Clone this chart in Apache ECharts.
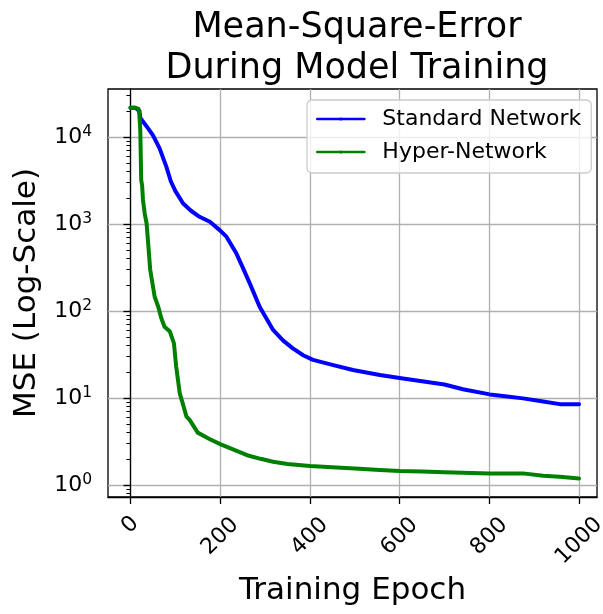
<!DOCTYPE html>
<html>
<head>
<meta charset="utf-8">
<title>Mean-Square-Error During Model Training</title>
<script src="https://cdn.jsdelivr.net/npm/echarts@6/dist/echarts.min.js"></script>
<style>
  html, body { margin: 0; padding: 0; background: #ffffff; }
  #chart { width: 603px; height: 614px; }
</style>
</head>
<body>
<div id="chart"></div>
<script>
// Training curves: epoch -> MSE
const stdEpochs = [0, 10, 20, 22, 25, 35, 50, 65, 80, 90, 100, 117, 135, 154, 177, 199, 214, 236, 250, 266, 288, 318, 340, 362, 385, 407, 450, 496, 556, 600, 650, 700, 741, 801, 840, 875, 920, 957, 1000];
const stdMse = [21700, 21700, 20000, 16500, 15700, 13500, 10500, 7400, 4560, 3100, 2400, 1730, 1420, 1210, 1060, 850, 715, 460, 320, 208, 112, 60.5, 46, 37.2, 31, 27.4, 24, 21, 18.4, 17, 15.6, 14.3, 12.6, 11.0, 10.4, 9.9, 9.1, 8.5, 8.5];

const hyperEpochs = [0, 10, 18, 20, 22, 24, 26, 28, 32, 36, 40, 44, 54, 62, 69, 76, 88, 97, 102, 110, 117, 125, 132, 150, 175, 200, 230, 260, 290, 318, 350, 400, 450, 500, 556, 600, 650, 700, 741, 800, 875, 920, 957, 1000];
const hyperMse = [21700, 21700, 21000, 18000, 12000, 3200, 2800, 1890, 1300, 1020, 560, 300, 146, 112, 82, 66, 58, 42.5, 22.9, 11.3, 8.5, 6.1, 5.6, 4.0, 3.4, 2.95, 2.55, 2.2, 2.0, 1.85, 1.74, 1.65, 1.6, 1.55, 1.49, 1.45, 1.43, 1.40, 1.38, 1.36, 1.36, 1.28, 1.245, 1.19];

// Axis ticks
const xTickValues = [0, 200, 400, 600, 800, 1000];
const yMajorTicks = [1, 10, 100, 1000, 10000];
const yMinorTicks = [0.8, 0.9, 2, 3, 4, 5, 6, 7, 8, 9, 20, 30, 40, 50, 60, 70, 80, 90,
  200, 300, 400, 500, 600, 700, 800, 900, 2000, 3000, 4000, 5000, 6000, 7000, 8000, 9000, 20000, 30000];

const seriesNames = ['Standard Network', 'Hyper-Network'];
const seriesColors = ['#0000ff', '#008000'];

const FONT = 'DejaVu Sans';
const X_MIN = -50, X_MAX = 1040;
const Y_MIN = 0.728, Y_MAX = 35620;

const pairs = (xs, ys) => xs.map((x, i) => [x, ys[i]]);

const chart = echarts.init(document.getElementById('chart'), null, { renderer: 'canvas' });

const tickLabelStyle = { fontFamily: FONT, fontSize: 22, color: '#000000', formatter: v => String(v) };

// one extra bottom axis per label group so each rotated label sits centred under its tick
function labelAxis(values, margin) {
  return {
    type: 'value', position: 'bottom', min: X_MIN, max: X_MAX,
    axisLine: { show: false }, axisTick: { show: false }, splitLine: { show: false },
    axisLabel: Object.assign({
      customValues: values, rotate: 45, align: 'center', verticalAlign: 'middle', margin: margin
    }, tickLabelStyle)
  };
}

chart.setOption({
  animation: false,
  backgroundColor: '#ffffff',
  title: {
    text: 'Mean-Square-Error\nDuring Model Training',
    left: 352, top: 2, textAlign: 'center',
    textStyle: { fontFamily: FONT, fontSize: 35, fontWeight: 'normal', color: '#000000', lineHeight: 41 }
  },
  legend: {
    data: seriesNames,
    orient: 'vertical',
    left: 307, top: 100,
    padding: [8, 10, 10, 9],
    itemWidth: 47, itemHeight: 4, itemGap: 11,
    backgroundColor: 'rgba(255,255,255,0.8)',
    borderColor: '#cccccc', borderWidth: 1.3, borderRadius: 5,
    lineStyle: { width: 2.7 },
    textStyle: { fontFamily: FONT, fontSize: 22, color: '#000000', lineHeight: 22, padding: [0, 0, 0, 13] }
  },
  grid: {
    left: 108, right: 6, top: 89, bottom: 117,
    show: true, borderColor: '#000000', borderWidth: 1.3,
    containLabel: false, outerBoundsMode: 'none'
  },
  xAxis: [
    {
      type: 'value', position: 'bottom', min: X_MIN, max: X_MAX,
      name: 'Training Epoch', nameLocation: 'middle', nameGap: 78,
      nameTextStyle: { fontFamily: FONT, fontSize: 31, color: '#000000', lineHeight: 31 },
      axisLine: { show: true, lineStyle: { color: '#000000', width: 1.3 } },
      axisTick: { show: true, customValues: xTickValues, length: 7, lineStyle: { color: '#000000', width: 1.3 } },
      axisLabel: Object.assign({
        customValues: [200, 400, 600, 800], rotate: 45, align: 'center', verticalAlign: 'middle', margin: 39.5
      }, tickLabelStyle),
      splitLine: { show: true, lineStyle: { color: '#b0b0b0', width: 1.3 } }
    },
    labelAxis([0], 28),
    labelAxis([1000], 44)
  ],
  yAxis: [
    {
      type: 'log', logBase: 10, position: 'left', min: Y_MIN, max: Y_MAX,
      name: 'MSE (Log-Scale)', nameLocation: 'middle', nameGap: 66, nameRotate: 90,
      nameTextStyle: { fontFamily: FONT, fontSize: 31, color: '#000000', lineHeight: 31 },
      axisLine: { show: true, lineStyle: { color: '#000000', width: 1.3 } },
      axisTick: { show: true, customValues: yMajorTicks, length: 7, lineStyle: { color: '#000000', width: 1.3 } },
      axisLabel: {
        customValues: yMajorTicks, margin: 16,
        formatter: v => '{b|10}{s|' + Math.round(Math.log10(v)) + '}',
        rich: {
          b: { fontFamily: FONT, fontSize: 22, color: '#000000', lineHeight: 27 },
          s: { fontFamily: FONT, fontSize: 15.5, color: '#000000', lineHeight: 15, verticalAlign: 'top' }
        }
      },
      splitLine: { show: true, lineStyle: { color: '#b0b0b0', width: 1.3 } }
    },
    {
      // minor decade ticks
      type: 'log', logBase: 10, position: 'left', min: Y_MIN, max: Y_MAX,
      axisLine: { show: false },
      axisTick: { show: true, customValues: yMinorTicks, length: 4, lineStyle: { color: '#000000', width: 1 } },
      axisLabel: { show: false },
      splitLine: { show: false }
    }
  ],
  series: [
    {
      name: seriesNames[0], type: 'line', xAxisIndex: 0, yAxisIndex: 0,
      data: pairs(stdEpochs, stdMse),
      symbol: 'circle', symbolSize: 3, showSymbol: false,
      lineStyle: { color: seriesColors[0], width: 4, join: 'round', cap: 'round' },
      itemStyle: { color: seriesColors[0] }
    },
    {
      name: seriesNames[1], type: 'line', xAxisIndex: 0, yAxisIndex: 0,
      data: pairs(hyperEpochs, hyperMse),
      symbol: 'circle', symbolSize: 3, showSymbol: false,
      lineStyle: { color: seriesColors[1], width: 4, join: 'round', cap: 'round' },
      itemStyle: { color: seriesColors[1] }
    }
  ]
});
</script>
</body>
</html>
